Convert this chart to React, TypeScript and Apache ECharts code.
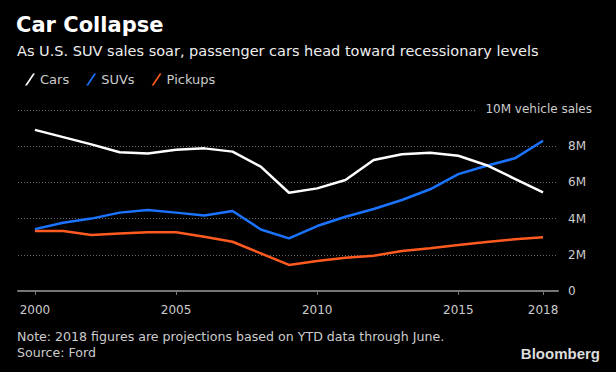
import React, { useEffect, useRef } from "react";
import * as echarts from "echarts";

const years = [2000, 2001, 2002, 2003, 2004, 2005, 2006, 2007, 2008, 2009, 2010, 2011, 2012, 2013, 2014, 2015, 2016, 2017, 2018];
const cars = [8.9, 8.5, 8.1, 7.67, 7.6, 7.8, 7.88, 7.7, 6.87, 5.43, 5.67, 6.13, 7.24, 7.55, 7.64, 7.47, 6.95, 6.2, 5.45];
const suvs = [3.42, 3.77, 4.0, 4.33, 4.47, 4.33, 4.17, 4.42, 3.4, 2.91, 3.59, 4.1, 4.53, 5.03, 5.62, 6.46, 6.92, 7.33, 8.3];
const pickups = [3.31, 3.31, 3.09, 3.17, 3.24, 3.24, 3.0, 2.72, 2.08, 1.44, 1.66, 1.84, 1.95, 2.21, 2.36, 2.54, 2.71, 2.86, 2.97];
const xTicks = [2000, 2005, 2010, 2015, 2018];
const seriesNames = ["Cars", "SUVs", "Pickups"];
const seriesColors = ["#ffffff", "#1a74ff", "#ff5a1f"];

const FONT = "'DejaVu Sans', sans-serif";
const SLASH = "path://M0,12 L2,12 L10,0 L8,0 Z";

export default function App() {
  const ref = useRef<HTMLDivElement>(null);
  useEffect(() => {
    if (!ref.current) return;
    const chart = echarts.init(ref.current, null, { renderer: "svg" });
    const allData = [cars, suvs, pickups];
    chart.setOption({
      animation: false,
      backgroundColor: "#000",
      textStyle: { fontFamily: FONT },
      grid: { left: 18, right: 58, top: 110, bottom: 81, containLabel: false },
      legend: {
        left: 20,
        top: 68,
        itemWidth: 10,
        itemHeight: 12,
        itemGap: 17,
        icon: SLASH,
        textStyle: { color: "#cccccc", fontSize: 13, fontFamily: FONT },
        data: seriesNames,
      },
      xAxis: {
        type: "value",
        min: 1999.4,
        max: 2018.53,
        axisLine: { show: true, lineStyle: { color: "#777", width: 2 } },
        axisTick: { show: true, customValues: xTicks, length: 4, lineStyle: { color: "#777", width: 1 } },
        axisLabel: { customValues: xTicks, color: "#cccccc", fontSize: 12, margin: 13, formatter: (v: number) => String(v) },
        splitLine: { show: false },
      },
      yAxis: {
        type: "value",
        position: "right",
        min: 0,
        max: 10,
        interval: 2,
        axisLine: { show: false },
        axisTick: { show: false },
        axisLabel: {
          color: "#cccccc",
          fontSize: 12,
          margin: 10,
          formatter: (v: number) => (v === 0 ? "0" : v === 10 ? "" : v + "M"),
        },
        splitLine: { show: true, lineStyle: { color: "#666", type: [1, 2], width: 1 } },
      },
      graphic: [
        { type: "text", left: 16, top: 14, style: { text: "Car Collapse", fill: "#fff", fontSize: 21, fontWeight: "bold", fontFamily: FONT } },
        { type: "text", left: 17, top: 43, style: { text: "As U.S. SUV sales soar, passenger cars head toward recessionary levels", fill: "#eeeeee", fontSize: 14.5, fontFamily: FONT } },
        {
          type: "text",
          right: 24,
          top: 101,
          z: 100,
          style: { text: "10M vehicle sales", fill: "#cccccc", fontSize: 12, fontFamily: FONT, backgroundColor: "#000", padding: [2, 0, 2, 10] },
        },
        { type: "text", left: 17, top: 330, style: { text: "Note: 2018 figures are projections based on YTD data through June.", fill: "#cccccc", fontSize: 12.6, fontFamily: FONT } },
        { type: "text", left: 17, top: 346, style: { text: "Source: Ford", fill: "#cccccc", fontSize: 12.6, fontFamily: FONT } },
        { type: "text", right: 16, top: 346, style: { text: "Bloomberg", fill: "#dddddd", fontSize: 15, fontWeight: "bold", fontFamily: "'Liberation Sans', sans-serif" } },
      ],
      series: seriesNames.map((name, si) => ({
        name,
        type: "line",
        showSymbol: false,
        symbol: "none",
        color: seriesColors[si],
        lineStyle: { color: seriesColors[si], width: 2.5 },
        data: years.map((y, i) => [y, allData[si][i]]),
        z: 3 - si,
      })),
    });
    return () => chart.dispose();
  }, []);
  return <div ref={ref} style={{ width: 616, height: 372, position: "absolute", left: 0, top: 0 }} />;
}
